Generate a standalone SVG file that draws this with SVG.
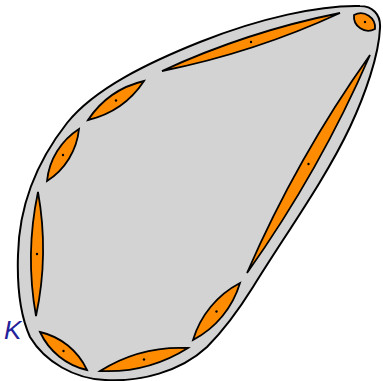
<svg xmlns="http://www.w3.org/2000/svg" width="383" height="381" viewBox="0 0 383 381">
<style>
.outer{fill:#d3d3d3;stroke:#000;stroke-width:2}
.lens{fill:#ff8c00;stroke:#000;stroke-width:1.8;stroke-linejoin:miter}
.dot{fill:#000}
.lbl{font-family:"Liberation Sans",Arial,sans-serif;font-style:italic;font-size:26px;fill:#22229a}
</style>
<g id="K">
<path class="outer" d="M360,6 C372,6 381,14 380,28 C379,55 365,95 350,127 C325,180 285,235 253,287 C238,311 224,330 207,347 C180,372 140,382 105,380 C75,379 45,362 30,337 C20,315 17,285 18,255 C19,205 38,160 67,123 C95,88 150,62 200,42 C260,18 320,5 360,6 Z"/>
<text class="lbl" x="4" y="339">K</text>
</g>
<g id="lens1"><path class="lens" d="M354,15 A14.3,14.3 0 0 1 375,29 A14.3,14.3 0 0 1 354,15 Z"/><circle class="dot" cx="365" cy="22" r="1.2"/></g>
<g id="lens2"><path class="lens" d="M162,71 A799,799 0 0 1 340,13 A799,799 0 0 1 162,71 Z"/><circle class="dot" cx="251" cy="42" r="1.2"/></g>
<g id="lens3"><path class="lens" d="M370,55 A1200,1200 0 0 1 247,273 A1200,1200 0 0 1 370,55 Z"/><circle class="dot" cx="308.5" cy="164" r="1.2"/></g>
<g id="lens4"><path class="lens" d="M240,283 A94.7,94.7 0 0 1 193,340 A94.7,94.7 0 0 1 240,283 Z"/><circle class="dot" cx="216.5" cy="311.5" r="1.2"/></g>
<g id="lens5"><path class="lens" d="M100,371 A151,151 0 0 1 188,348 A151,151 0 0 1 100,371 Z"/><circle class="dot" cx="144" cy="359.5" r="1.2"/></g>
<g id="lens6"><path class="lens" d="M40,332 A68.6,68.6 0 0 1 87,370 A68.6,68.6 0 0 1 40,332 Z"/><circle class="dot" cx="63.5" cy="351" r="1.2"/></g>
<g id="lens7"><path class="lens" d="M38,192 A323,323 0 0 1 36,316 A323,323 0 0 1 38,192 Z"/><circle class="dot" cx="37" cy="254" r="1.2"/></g>
<g id="lens8"><path class="lens" d="M79,129 A70.1,70.1 0 0 1 47,181 A70.1,70.1 0 0 1 79,129 Z"/><circle class="dot" cx="63" cy="155" r="1.2"/></g>
<g id="lens9"><path class="lens" d="M144,81 A92.7,92.7 0 0 1 88,120 A92.7,92.7 0 0 1 144,81 Z"/><circle class="dot" cx="116" cy="100.5" r="1.2"/></g>
<g id="connectors"/>
</svg>
